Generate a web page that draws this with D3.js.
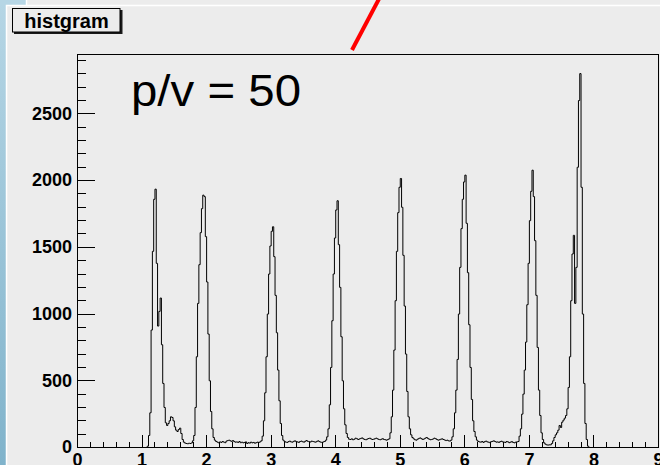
<!DOCTYPE html>
<html>
<head>
<meta charset="utf-8">
<script src="https://cdnjs.cloudflare.com/ajax/libs/d3/7.8.5/d3.min.js"></script>
<style>
  html, body { margin: 0; padding: 0; background: #ececec; overflow: hidden; }
  .axis text { font-family: "Liberation Sans", Arial, Helvetica, sans-serif; font-weight: bold; font-size: 18px; fill: #000; }
  .axis line { stroke: #000; shape-rendering: crispEdges; }
  .axis path { display: none; }
  .frame { fill: none; stroke: #000; stroke-width: 1; shape-rendering: crispEdges; }
  .hist { fill: none; stroke: #000; stroke-width: 1; }
</style>
</head>
<body>
<script>
var width = 660,
    height = 465;

// histogram contents, 0.02 wide bins starting at 1.0
var binStart = 1.0,
    binWidth = 0.02;

var counts = [
    // 1.00 - 1.79 : first peak with shoulder
    0, 0, 0, 0, 10, 90, 260, 880, 1470, 1860, 1936, 1380, 910, 1020, 1120, 770, 480, 300, 185, 165,
    180, 200, 230, 225, 200, 155, 130, 120, 135, 145, 105, 60, 40, 33, 30, 28, 32, 30, 34, 50,
    // 1.80 - 2.15 : second peak
    90, 300, 680, 1080, 1370, 1610, 1790, 1891, 1880, 1580, 1240, 850, 500, 270, 140, 75, 55, 45,
    // 2.16 - 2.83
    40, 35, 42, 38, 45, 40, 36, 48, 52, 55, 50, 46, 52, 44, 40, 42, 38, 45, 36, 40,
    35, 38, 42, 30, 36, 33, 40, 35, 38, 32, 36, 40, 38, 42,
    // 2.84 - 3.19 : third peak
    50, 85, 200, 410, 680, 1000, 1300, 1510, 1620, 1654, 1430, 1140, 860, 580, 350, 180, 90, 55,
    // 3.20 - 3.83
    45, 40, 38, 44, 48, 42, 40, 46, 50, 44, 42, 38, 45, 48, 43, 40, 47, 52, 46, 44,
    41, 48, 45, 42, 40, 46, 50, 44, 40, 38, 42, 45,
    // 3.84 - 4.21 : fourth peak
    55, 80, 140, 320, 600, 950, 1300, 1570, 1780, 1849, 1520, 1200, 830, 500, 290, 170, 105, 75, 62,
    // 4.22 - 4.81
    60, 65, 58, 62, 70, 66, 60, 64, 68, 72, 65, 60, 58, 63, 67, 70, 64, 60, 62, 66,
    70, 65, 60, 58, 62, 66, 60, 58, 55, 60,
    // 4.82 - 5.19 : fifth peak
    65, 110, 230, 430, 730, 1100, 1470, 1760, 1950, 2016, 1800, 1440, 1060, 700, 420, 230, 140, 95, 75,
    // 5.20 - 5.79
    65, 58, 55, 62, 68, 72, 66, 60, 64, 70, 75, 68, 62, 58, 60, 64, 70, 66, 60, 55,
    58, 62, 65, 60, 56, 52, 55, 50, 48, 55,
    // 5.80 - 6.21 : sixth peak
    80, 140, 260, 430, 660, 1000, 1350, 1640, 1860, 1990, 2041, 1680, 1310, 920, 600, 360, 200, 120, 80, 55, 45,
    // 6.22 - 6.81
    42, 40, 45, 38, 44, 48, 42, 40, 36, 44, 46, 50, 45, 40, 42, 38, 44, 47, 42, 40,
    38, 45, 42, 36, 40, 44, 38, 35, 40, 42,
    // 6.82 - 7.59 : seventh peak and rising shoulder
    45, 85, 140, 250, 400, 580, 790, 1070, 1380, 1700, 1920, 2078, 1880, 1550, 1140, 750, 430, 240, 110, 60,
    35, 25, 20, 18, 20, 20, 30, 50, 75, 95, 110, 130, 165, 150, 190, 205, 220, 240, 290,
    // 7.60 - 7.99 : last double peak
    450, 680, 1100, 1450, 1590, 1080, 1350, 2100, 2600, 2802, 1950, 1000, 480, 180, 60, 10, 0, 0, 0, 0
];

var xTicks = [0, 1, 2, 3, 4, 5, 6, 7, 8, 9],
    yTicks = [0, 500, 1000, 1500, 2000, 2500];

var titleText = "histgram",
    noteText = "p/v = 50";

var x = d3.scaleLinear()
    .domain([0, 9])
    .range([77, 658]);

var y = d3.scaleLinear()
    .domain([0, 2945])
    .range([447, 54]);

var svg = d3.select("body").append("svg")
    .attr("width", width)
    .attr("height", height);

var defs = svg.append("defs");

var grad = defs.append("linearGradient")
    .attr("id", "side")
    .attr("x1", 0).attr("y1", 0)
    .attr("x2", 0).attr("y2", 1);
grad.append("stop").attr("offset", "0%").attr("stop-color", "#b6d6e5");
grad.append("stop").attr("offset", "100%").attr("stop-color", "#80b3cb");

defs.append("clipPath")
    .attr("id", "plot-clip")
  .append("rect")
    .attr("x", x(0))
    .attr("y", y.range()[1])
    .attr("width", x(9) - x(0))
    .attr("height", y(0) - y.range()[1]);

// window background and the blue strip on the left
svg.append("rect")
    .attr("width", width)
    .attr("height", height)
    .attr("fill", "#ececec");

svg.append("rect")
    .attr("x", 0).attr("y", 0)
    .attr("width", 6).attr("height", height)
    .attr("fill", "url(#side)");

svg.append("rect")
    .attr("x", 0).attr("y", 0)
    .attr("width", 26).attr("height", 5)
    .attr("fill", "#b6d6e5");

svg.append("path")
    .attr("d", "M6.5,465V5.5H660M26.5,0V5")
    .attr("fill", "none")
    .attr("stroke", "#fff")
    .attr("stroke-width", 1.5);

// title box with its shadow
svg.append("rect")
    .attr("x", 14).attr("y", 10)
    .attr("width", 108.5).attr("height", 24)
    .attr("fill", "#1a1a1a");

svg.append("rect")
    .attr("x", 12.5).attr("y", 8.5)
    .attr("width", 107.5).attr("height", 23.5)
    .attr("fill", "#ececec")
    .attr("stroke", "#000")
    .attr("stroke-width", 1);

svg.append("text")
    .attr("x", 66.5)
    .attr("y", 27.5)
    .attr("text-anchor", "middle")
    .style("font-family", "'Liberation Sans', Arial, Helvetica, sans-serif")
    .style("font-weight", "bold")
    .style("font-size", "20px")
    .text(titleText);

// frame
svg.append("rect")
    .attr("class", "frame")
    .attr("x", x(0) + 0.5)
    .attr("y", y.range()[1] + 0.5)
    .attr("width", x(9) - x(0))
    .attr("height", y(0) - y.range()[1]);

// histogram drawn as a step line
var pts = counts.map(function(c, i) { return [binStart + i * binWidth, c]; });
pts.push([binStart + counts.length * binWidth, 0]);

var line = d3.line()
    .x(function(d) { return x(d[0]) + 0.5; })
    .y(function(d) { return y(d[1]) + 0.5; })
    .curve(d3.curveStepAfter);

svg.append("path")
    .datum(pts)
    .attr("class", "hist")
    .attr("clip-path", "url(#plot-clip)")
    .attr("d", line);

// axes with ticks pointing into the frame
var yMinor = d3.range(100, 3000, 100).filter(function(v) { return v % 500 !== 0; });
var xMinor = d3.range(0, 9.01, 0.2).filter(function(v) { return Math.abs(v - Math.round(v)) > 1e-6; });

svg.append("g")
    .attr("class", "axis")
    .attr("transform", "translate(" + x(0) + ",0)")
    .call(d3.axisLeft(y).tickValues(yMinor).tickSize(-9).tickSizeOuter(0).tickFormat(""));

svg.append("g")
    .attr("class", "axis")
    .attr("transform", "translate(" + x(0) + ",0)")
    .call(d3.axisLeft(y).tickValues(yTicks).tickSize(-18).tickPadding(5).tickSizeOuter(0).tickFormat(d3.format("d")));

svg.append("g")
    .attr("class", "axis")
    .attr("transform", "translate(0," + y(0) + ")")
    .call(d3.axisBottom(x).tickValues(xMinor).tickSize(-5).tickSizeOuter(0).tickFormat(""));

svg.append("g")
    .attr("class", "axis")
    .attr("transform", "translate(0," + y(0) + ")")
    .call(d3.axisBottom(x).tickValues(xTicks).tickSize(-12).tickPadding(6).tickSizeOuter(0).tickFormat(d3.format("d")));

// annotation text and the red stroke at the top
svg.append("text")
    .attr("x", 131)
    .attr("y", 106)
    .attr("textLength", 170)
    .attr("lengthAdjust", "spacingAndGlyphs")
    .style("font-family", "'Liberation Sans', Arial, Helvetica, sans-serif")
    .style("font-size", "44px")
    .text(noteText);

svg.append("line")
    .attr("x1", 352).attr("y1", 50)
    .attr("x2", 380).attr("y2", -3)
    .attr("stroke", "#ff0000")
    .attr("stroke-width", 4);
</script>
</body>
</html>
